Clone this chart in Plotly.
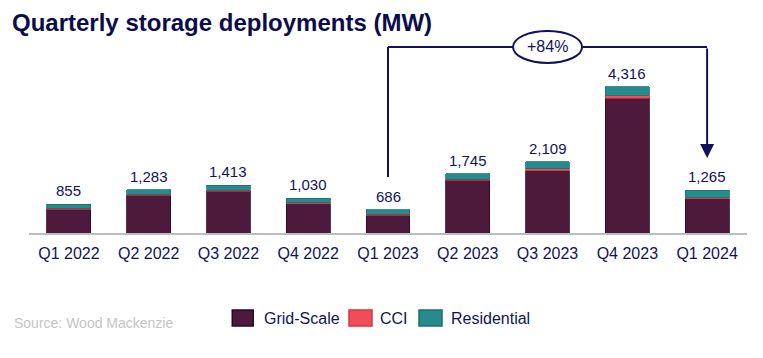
import plotly.graph_objects as go

quarters = ["Q1 2022", "Q2 2022", "Q3 2022", "Q4 2022", "Q1 2023",
            "Q2 2023", "Q3 2023", "Q4 2023", "Q1 2024"]
grid_scale = [700, 1118, 1233, 860, 526, 1555, 1844, 3986, 1017]
cci = [25, 30, 30, 30, 30, 30, 60, 80, 30]
residential = [130, 135, 150, 140, 130, 160, 205, 250, 218]
totals = [855, 1283, 1413, 1030, 686, 1745, 2109, 4316, 1265]
total_labels = [f"{v:,}" for v in totals]
series_names = ["Grid-Scale", "CCI", "Residential"]
series_colors = ["#4d1a3c", "#ef4d59", "#268b8c"]
series_edges = ["#2a0a1e", "#e0303c", "#1d6f70"]

NAVY = "#12125c"
FONT = "Liberation Sans, Arial, sans-serif"

fig = go.Figure()
for name, vals, col, edge in zip(series_names, [grid_scale, cci, residential],
                                 series_colors, series_edges):
    fig.add_trace(go.Bar(x=quarters, y=vals, name=name, showlegend=False,
                         marker=dict(color=col, line=dict(color=edge, width=0.8))))

for q, t, lab in zip(quarters, totals, total_labels):
    fig.add_annotation(x=q, y=t, xref="x", yref="y", text=lab, showarrow=False,
                       yanchor="bottom", yshift=3,
                       font=dict(size=15, color=NAVY, family=FONT))

# bracket annotation for +84%
line_style = dict(color=NAVY, width=2)
y_top = 5498
fig.add_shape(type="line", xref="x", yref="y", x0=4, x1=4, y0=1655, y1=y_top, line=line_style)
fig.add_shape(type="line", xref="x", yref="y", x0=4, x1=8, y0=y_top, y1=y_top, line=line_style)
fig.add_annotation(x=8, y=2220, ax=8, ay=y_top, xref="x", yref="y", axref="x", ayref="y",
                   text="", showarrow=True, arrowhead=2, arrowsize=1.4, arrowwidth=2,
                   arrowcolor=NAVY)
fig.add_shape(type="circle", xref="x", yref="y", x0=5.567, x1=6.433, y0=5026, y1=5971,
              line=dict(color=NAVY, width=2), fillcolor="white", layer="above")
fig.add_annotation(x=6, y=5498, xref="x", yref="y", text="+84%", showarrow=False,
                   font=dict(size=16, color=NAVY, family=FONT))

# source note
fig.add_annotation(x=-0.0237, y=-0.443, xref="paper", yref="paper", xanchor="left",
                   yanchor="middle", text="Source: Wood Mackenzie", showarrow=False,
                   font=dict(size=14, color="#c4c4c4", family=FONT))

# legend (drawn manually to match the reference spacing)
leg_boxes = [(0.2831, 0.3123, 0.3245), (0.4457, 0.4777, 0.4861), (0.5432, 0.5752, 0.5850)]
for (x0, x1, xt), name, col, edge in zip(leg_boxes, series_names, series_colors, series_edges):
    fig.add_shape(type="rect", xref="paper", yref="paper", x0=x0, x1=x1,
                  y0=-0.4581, y1=-0.3793, fillcolor=col, line=dict(color=edge, width=1.5))
    fig.add_annotation(x=xt, y=-0.419, xref="paper", yref="paper", xanchor="left",
                       yanchor="middle", text=name, showarrow=False,
                       font=dict(size=16, color=NAVY, family=FONT))

fig.update_layout(
    width=755, height=350,
    margin=dict(l=21, r=16, t=22, b=125),
    plot_bgcolor="white", paper_bgcolor="white",
    barmode="stack", bargap=0.45,
    title=dict(text="<b>Quarterly storage deployments (MW)</b>", x=0.0053, y=0.958,
               xref="container", yref="container", xanchor="left", yanchor="middle",
               pad=dict(t=0, b=0, l=0, r=0),
               font=dict(size=24, color="#0c0c4a", family=FONT)),
    xaxis=dict(showline=True, linecolor="#bdbdbd", linewidth=1.5, ticks="outside",
               ticklen=5, tickcolor="rgba(0,0,0,0)",
               tickfont=dict(size=16, color=NAVY, family=FONT), showgrid=False),
    yaxis=dict(range=[0, 6000], visible=False, showgrid=False),
    showlegend=False,
)

fig.write_html("out.html")
